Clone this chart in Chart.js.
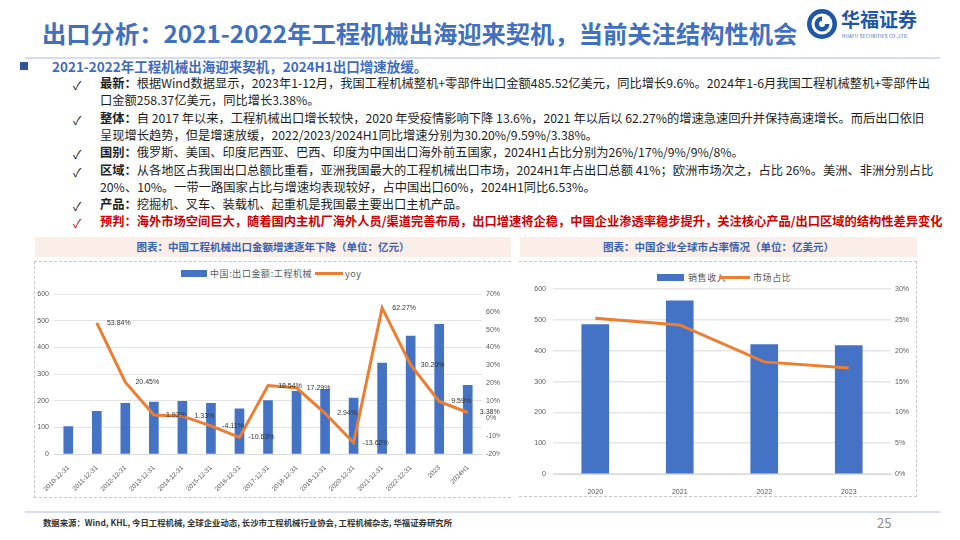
<!DOCTYPE html>
<html>
<head>
<meta charset="utf-8">
<script src="https://cdn.jsdelivr.net/npm/chart.js@4.4.1/dist/chart.umd.min.js"></script>
<style>
  body { margin: 0; width: 960px; height: 540px; background: #fff; position: relative; overflow: hidden;
         font-family: "Noto Sans CJK SC", "Noto Sans", sans-serif; }
  .abs { position: absolute; white-space: nowrap; }
  .title { left: 42px; top: 15px; font-size: 24.3px; font-weight: bold; color: #4170C0; line-height: 36px; }
  .hr { position: absolute; height: 2px; background: #D6DDEE; }
  .sub { left: 52px; top: 57px; font-size: 13.5px; font-weight: bold; color: #3F6CC0; line-height: 18px; }
  .bullet { left: 20px; top: 62px; width: 8px; height: 8px; background: #2F5597; }
  .chk { left: 73px; font-size: 12px; color: #222; }
  .line { left: 100px; font-size: 12.25px; color: #1e1e1e; line-height: 17px; }
  .line b { font-weight: bold; }
  .red { color: #D00000; font-weight: bold; }
  .ptitle { position: absolute; top: 237px; height: 20px; background: #FBEEE9; color: #3A62B0;
            font-size: 10.5px; font-weight: bold; text-align: center; line-height: 20px; }
  .dash { position: absolute; border: 0 dashed #C8C8C8; }
  .leg { position: absolute; font-size: 9px; color: #595959; letter-spacing: 0.6px; white-space: nowrap; line-height: 10px; }
  .lbox { position: absolute; }
  canvas { position: absolute; }
</style>
</head>
<body>
<script>
// left chart: export value + yoy
const exportYears = ['2010-12-31', '2011-12-31', '2012-12-31', '2013-12-31', '2014-12-31', '2015-12-31',
  '2016-12-31', '2017-12-31', '2018-12-31', '2019-12-31', '2020-12-31', '2021-12-31', '2022-12-31', '2023', '2024H1'];
const exportValues = [103, 160, 190, 195, 198, 190, 170, 201, 235, 243, 210, 341, 443, 487, 258];
const exportYoy = [null, 53.84, 20.45, 1.93, 1.33, -4.11, -10.63, 18.54, 17.29, 2.94, -13.62, 62.27, 30.20, 9.59, 3.38];

// right chart: global market share
const shareYears = ['2020', '2021', '2022', '2023'];
const salesValues = [485, 562, 420, 417];
const shareValues = [25.3, 24.2, 18.2, 17.2];
</script>

<div class="abs title">出口分析：2021-2022年工程机械出海迎来契机，当前关注结构性机会</div>
<svg class="abs" style="left:806px;top:8px" width="32" height="32" viewBox="0 0 32 32">
  <circle cx="16" cy="16" r="15" fill="#1F57A8"/>
  <circle cx="16" cy="16" r="10.5" fill="#fff"/>
  <path d="M16 8.5 A7.5 7.5 0 1 0 23.5 16 L19 16 A3 3 0 1 1 16 13 Z" fill="#1F57A8"/>
</svg>
<div class="abs" style="left:841px;top:6px;font-size:19px;font-weight:bold;color:#1F57A8;line-height:26px">华福证券</div>
<div class="abs" style="left:842px;top:33px;font-size:4.5px;color:#1F57A8;letter-spacing:0.3px">HUAFU SECURITIES CO.,LTD.</div>
<div class="hr" style="left:25px;top:57px;width:915px;"></div>

<div class="abs bullet"></div>
<div class="abs sub">2021-2022年工程机械出海迎来契机，2024H1出口增速放缓。</div>

<div class="abs chk" style="top:76px">✓</div>
<div class="abs line" style="top:75px"><b>最新：</b>根据Wind数据显示，2023年1-12月，我国工程机械整机+零部件出口金额485.52亿美元，同比增长9.6%。2024年1-6月我国工程机械整机+零部件出</div>
<div class="abs line" style="top:92px">口金额258.37亿美元，同比增长3.38%。</div>
<div class="abs chk" style="top:111px">✓</div>
<div class="abs line" style="top:110px"><b>整体：</b>自 2017 年以来，工程机械出口增长较快，2020 年受疫情影响下降 13.6%，2021 年以后以 62.27%的增速急速回升并保持高速增长。而后出口依旧</div>
<div class="abs line" style="top:127px">呈现增长趋势，但是增速放缓，2022/2023/2024H1同比增速分别为30.20%/9.59%/3.38%。</div>
<div class="abs chk" style="top:145px">✓</div>
<div class="abs line" style="top:144px"><b>国别：</b>俄罗斯、美国、印度尼西亚、巴西、印度为中国出口海外前五国家，2024H1占比分别为26%/17%/9%/9%/8%。</div>
<div class="abs chk" style="top:163px">✓</div>
<div class="abs line" style="top:162px"><b>区域：</b>从各地区占我国出口总额比重看，亚洲我国最大的工程机械出口市场，2024H1年占出口总额 41%；欧洲市场次之，占比 26%。美洲、非洲分别占比</div>
<div class="abs line" style="top:179px">20%、10%。一带一路国家占比与增速均表现较好，占中国出口60%，2024H1同比6.53%。</div>
<div class="abs chk" style="top:197px">✓</div>
<div class="abs line" style="top:196px"><b>产品：</b>挖掘机、叉车、装载机、起重机是我国最主要出口主机产品。</div>
<div class="abs chk" style="top:214px;color:#D00000">✓</div>
<div class="abs line red" style="top:213px">预判：海外市场空间巨大，随着国内主机厂海外人员/渠道完善布局，出口增速将企稳，中国企业渗透率稳步提升，关注核心产品/出口区域的结构性差异变化</div>

<!-- left panel -->
<div class="ptitle" style="left:35px;width:476px">图表：中国工程机械出口金额增速逐年下降（单位：亿元）</div>
<div class="dash" style="left:34px;top:261px;width:476px;height:235px;border-top-width:1.5px;border-left-width:1.5px;border-bottom-width:1.5px"></div>
<div class="lbox" style="left:181px;top:270px;width:26px;height:7px;background:#4472C4"></div>
<div class="leg" style="left:210px;top:269px">中国:出口金额:工程机械</div>
<div class="lbox" style="left:315px;top:272px;width:28px;height:3px;background:#ED7D31"></div>
<div class="leg" style="left:345px;top:269px">yoy</div>
<canvas id="exportChart" width="464" height="213" style="left:36px;top:285px"></canvas>

<!-- right panel -->
<div class="ptitle" style="left:520px;width:397px">图表：中国企业全球市占率情况（单位：亿美元）</div>
<div class="dash" style="left:519px;top:261px;width:397px;height:234px;border-top-width:1.5px;border-right-width:1.5px;border-bottom-width:1.5px"></div>
<div class="lbox" style="left:657px;top:274px;width:27px;height:7px;background:#4472C4"></div>
<div class="leg" style="left:688px;top:273px">销售收入</div>
<div class="lbox" style="left:719px;top:276px;width:31px;height:3px;background:#ED7D31"></div>
<div class="leg" style="left:753px;top:273px">市场占比</div>
<canvas id="shareChart" width="394" height="216" style="left:522px;top:278px"></canvas>

<div class="hr" style="left:25px;top:511px;width:915px;height:1.5px"></div>
<div class="abs" style="left:43px;top:516px;font-size:8.4px;font-weight:bold;color:#333">数据来源：Wind, KHL, 今日工程机械, 全球企业动态, 长沙市工程机械行业协会, 工程机械杂志, 华福证券研究所</div>
<div class="abs" style="left:877px;top:513px;font-size:13px;color:#8C8C8C">25</div>

<script>
const tickFont = { family: 'Liberation Sans', size: 7 };
const tickColor = '#595959';

// yoy labels sit to the right of each point
const yoyLabels = {
  id: 'yoyLabels',
  afterDatasetsDraw(chart) {
    const ctx = chart.ctx;
    const meta = chart.getDatasetMeta(1);
    ctx.save();
    ctx.font = '7px "Liberation Sans"';
    ctx.fillStyle = '#333';
    ctx.textAlign = 'center';
    ctx.textBaseline = 'middle';
    meta.data.forEach((pt, i) => {
      const v = exportYoy[i];
      if (v == null) return;
      ctx.fillText(v.toFixed(2) + '%', pt.x + 22, pt.y);
    });
    ctx.restore();
  }
};

new Chart(document.getElementById('exportChart'), {
  data: {
    labels: exportYears,
    datasets: [{
      type: 'bar',
      label: '中国:出口金额:工程机械',
      data: exportValues,
      backgroundColor: '#4472C4',
      barThickness: 9,
      yAxisID: 'y',
      order: 2
    }, {
      type: 'line',
      label: 'yoy',
      data: exportYoy,
      borderColor: '#ED7D31',
      borderWidth: 3,
      pointRadius: 0,
      tension: 0,
      yAxisID: 'y1',
      order: 1
    }]
  },
  options: {
    responsive: false,
    animation: false,
    layout: { padding: { top: 3, left: 0, right: 0, bottom: 0 } },
    plugins: { legend: { display: false }, tooltip: { enabled: false } },
    scales: {
      x: {
        grid: { display: false },
        border: { color: '#D9D9D9' },
        ticks: { font: { family: 'Liberation Sans', size: 6.5 }, color: tickColor, minRotation: 45, maxRotation: 45, autoSkip: false, padding: 2 },
        afterFit: s => { s.height = 44; }
      },
      y: {
        position: 'left', min: 0, max: 600,
        ticks: { stepSize: 100, font: tickFont, color: tickColor, padding: 5 },
        grid: { color: '#E3E3E3', drawTicks: false },
        border: { display: false },
        afterFit: s => { s.width = 18; }
      },
      y1: {
        position: 'right', min: -20, max: 70,
        ticks: { stepSize: 10, font: tickFont, color: tickColor, padding: 4, callback: v => v + '%' },
        grid: { drawOnChartArea: false, drawTicks: false },
        border: { display: false },
        afterFit: s => { s.width = 18; }
      }
    }
  },
  plugins: [yoyLabels]
});

new Chart(document.getElementById('shareChart'), {
  data: {
    labels: shareYears,
    datasets: [{
      type: 'bar',
      label: '销售收入',
      data: salesValues,
      backgroundColor: '#4472C4',
      barThickness: 27,
      yAxisID: 'y',
      order: 2
    }, {
      type: 'line',
      label: '市场占比',
      data: shareValues,
      borderColor: '#ED7D31',
      borderWidth: 3,
      pointRadius: 0,
      tension: 0,
      yAxisID: 'y1',
      order: 1
    }]
  },
  options: {
    responsive: false,
    animation: false,
    layout: { padding: { top: 2, left: 0, right: 0, bottom: 0 } },
    plugins: { legend: { display: false }, tooltip: { enabled: false } },
    scales: {
      x: {
        grid: { display: false },
        border: { color: '#D9D9D9' },
        ticks: { font: tickFont, color: tickColor, padding: 6 },
        afterFit: s => { s.height = 20; }
      },
      y: {
        position: 'left', min: 0, max: 600,
        ticks: { stepSize: 100, font: tickFont, color: tickColor, padding: 7 },
        grid: { color: '#E6E6E6', lineWidth: 1.5, drawTicks: false },
        border: { display: false },
        afterFit: s => { s.width = 31; }
      },
      y1: {
        position: 'right', min: 0, max: 30,
        ticks: { stepSize: 5, font: tickFont, color: tickColor, padding: 4, callback: v => v + '%' },
        grid: { drawOnChartArea: false, drawTicks: false },
        border: { display: false },
        afterFit: s => { s.width = 25; }
      }
    }
  }
});
</script>
</body>
</html>
